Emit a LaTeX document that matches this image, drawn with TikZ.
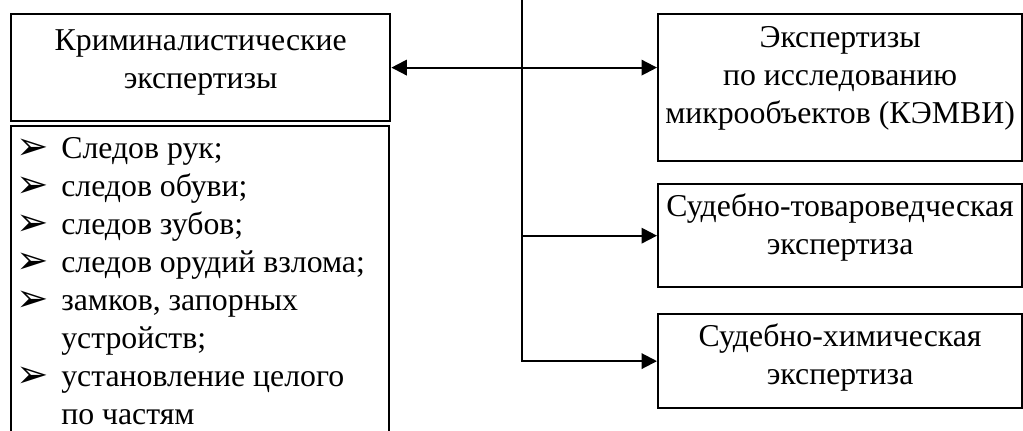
\documentclass[tikz,border=0pt]{standalone}
\usepackage{fontspec}
\setmainfont{Liberation Serif}
\newfontfamily\dingfont{DejaVu Sans}
\usetikzlibrary{arrows.meta, positioning}
\tikzset{
	>={Triangle[length=6.8pt, width=6.8pt]},
	% boxes are placed by their top left corner
	box/.style={draw, line width=1pt, inner sep=0pt, anchor=north west},
	boxtext/.style={anchor=north, align=center, inner sep=0pt, font=\fontsize{14}{16.7}\selectfont},
	link/.style={line width=0.9pt},
}
\newcommand{\lstmark}{\makebox[19.8pt][l]{\raisebox{-0.5pt}{\dingfont\fontsize{17}{17}\selectfont ➢}}}

\begin{document}
\begin{tikzpicture}[x={(0.4405pt,0pt)}, y={(0pt,-0.4405pt)}]
	\useasboundingbox (0,0) rectangle (1023,430);
	% left column
	\node[box, minimum width=167pt, minimum height=47.1pt] (krim) at (10,13) {};
	\node[box, minimum width=166.5pt, minimum height=140pt] (lst) at (10,125) {};
	\node[boxtext, below=7pt of krim.north] (krimtxt) {Криминалистические\\экспертизы};
	\node[boxtext, align=left, anchor=north west, below right=5.4pt and 2.6pt of lst.north west] (lsttxt) {%
		\lstmark Следов рук;\\
		\lstmark следов обуви;\\
		\lstmark следов зубов;\\
		\lstmark следов орудий взлома;\\
		\lstmark замков, запорных\\
		\hspace*{19.8pt}устройств;\\
		\lstmark установление целого\\
		\hspace*{19.8pt}по частям};
	% right column
	\node[box, minimum width=160.3pt, minimum height=64.8pt] (mikro) at (657,13) {};
	\node[box, minimum width=160.3pt, minimum height=45.4pt] (tovar) at (657,183) {};
	\node[box, minimum width=160.3pt, minimum height=41.4pt] (chem) at (657,313) {};
	\node[boxtext, below=5.8pt of mikro.north] (mikrotxt) {Экспертизы\\по исследованию\\микрообъектов (КЭМВИ)};
	\node[boxtext, below=4.6pt of tovar.north] (tovartxt) {Судебно-товароведческая\\экспертиза};
	\node[boxtext, below=4.6pt of chem.north] (chemtxt) {Судебно-химическая\\экспертиза};
	% connectors
	\coordinate (trunktop) at (522,-5);
	\draw[link, <->] (krim.east) -- (krim.east -| mikro.west);
	\draw[link, ->] (trunktop) -- (trunktop |- chem.west) -- (chem.west);
	\draw[link, ->] (trunktop |- tovar.west) -- (tovar.west);
\end{tikzpicture}
\end{document}
